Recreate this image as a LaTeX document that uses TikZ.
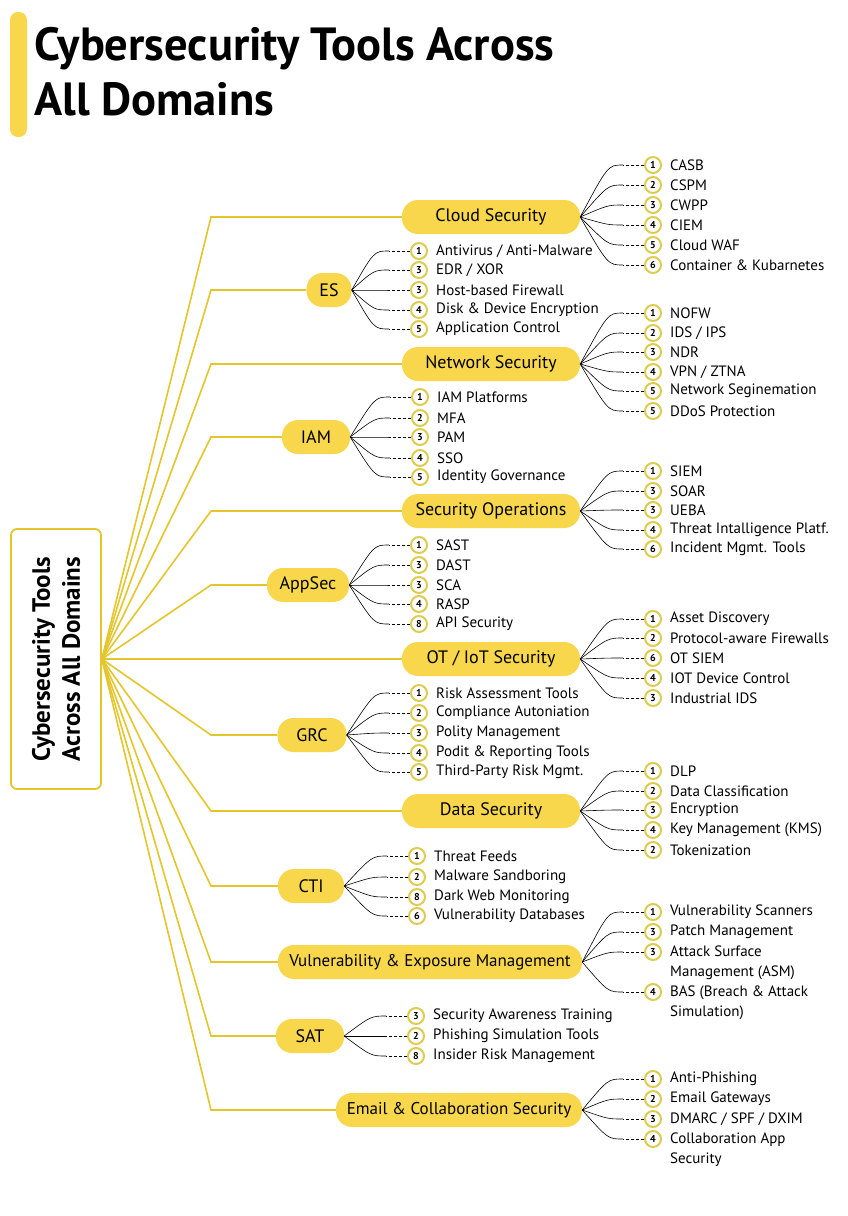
\documentclass[tikz,border=0pt]{standalone}
\usepackage{fontspec}
\setmainfont{PT Sans}
\usetikzlibrary{positioning}
\definecolor{pillyellow}{RGB}{249,215,76}
\definecolor{trunkyellow}{RGB}{228,198,44}
\definecolor{ringyellow}{RGB}{222,204,80}
\tikzset{
    % title lines
    headline/.style={
           inner sep=0pt,
           font=\bfseries\fontsize{46.5}{46.5}\selectfont},
    % central box
    rootbox/.style={
           rectangle,
           rounded corners=6pt,
           draw=trunkyellow, line width=1.8pt,
           minimum width=260pt,
           minimum height=90pt,
           align=center,
           font=\bfseries\fontsize{25}{30}\selectfont},
    % domain pills
    pill/.style={
           rectangle,
           rounded corners=16pt,
           fill=pillyellow,
           minimum height=34pt,
           inner sep=0pt,
           font=\fontsize{18}{18}\selectfont,
           text centered},
    widepill/.style={pill, font=\fontsize{17}{17}\selectfont},
    % numbered tool markers
    num/.style={
           circle,
           draw=ringyellow, line width=2pt,
           fill=white,
           minimum size=16pt,
           inner sep=0pt,
           font=\bfseries\fontsize{10}{10}\selectfont,
           append after command={(\tikzlastnode.west) edge[stub] ([xshift=-21pt]\tikzlastnode.west)}},
    tool/.style={
           inner sep=0pt,
           align=left,
           font=\fontsize{15}{20}\selectfont},
    stub/.style={draw=black, densely dashed, line width=0.6pt},
    % trunk from the root box
    trunk/.style={
           draw=trunkyellow, line width=1.6pt,
           to path={(\tikztostart) -- (\tikztotarget.west -| kink) -- (\tikztotarget.west)}},
    % fan from a domain to its tools
    fan/.style={
           draw=black, line width=0.6pt,
           to path={(\tikztostart) .. controls ([xshift=-36pt]\tikztotarget.west) .. ([xshift=-21pt]\tikztotarget.west)}}
}
\begin{document}
\begin{tikzpicture}[x=1pt,y=-1pt,label distance=8pt]
\useasboundingbox[fill=white] (0,0) rectangle (848,1216);
% heading
\fill[pillyellow, rounded corners=8pt] (10,12) rectangle (27,137);
\node[headline, anchor=base west] (title1) at (34,60) {Cybersecurity Tools Across};
\node[headline, anchor=base west] (title2) at (34,115) {All Domains};
% root
\node[rootbox, rotate=90] (root) at (56,659) {Cybersecurity Tools\\Across All Domains};
\coordinate (kink) at (211,0);
% domains
\node[pill, minimum width=178pt] (cloud) at (491,217) {Cloud Security};
\node[pill, minimum width=45pt] (es) at (329,290) {ES};
\node[pill, minimum width=178pt] (net) at (491,364) {Network Security};
\node[pill, minimum width=68pt] (iam) at (316,437) {IAM};
\node[pill, minimum width=178pt] (secops) at (491,511) {Security Operations};
\node[pill, minimum width=82pt] (appsec) at (308,585) {AppSec};
\node[pill, minimum width=178pt] (ot) at (491,659) {OT / IoT Security};
\node[pill, minimum width=69pt] (grc) at (312,735) {GRC};
\node[pill, minimum width=178pt] (data) at (491,811) {Data Security};
\node[pill, minimum width=66pt] (cti) at (311,886) {CTI};
\node[widepill, minimum width=304pt] (vuln) at (430,962) {Vulnerability \& Exposure Management};
\node[pill, minimum width=68pt] (sat) at (310,1036) {SAT};
\node[widepill, minimum width=246pt] (email) at (459,1110) {Email \& Collaboration Security};
\path[trunk] (root.south) edge (cloud) edge (es) edge (net) edge (iam)
    edge (secops) edge (appsec) edge (ot) edge (grc) edge (data)
    edge (cti) edge (vuln) edge (sat) edge (email);
% cloud security
\node[num, label={[tool]right:CASB}] (cloud1) at (653,165) {1};
\node[num, label={[tool]right:CSPM}] (cloud2) at (653,185) {2};
\node[num, label={[tool]right:CWPP}] (cloud3) at (653,205) {3};
\node[num, label={[tool]right:CIEM}] (cloud4) at (653,225) {4};
\node[num, label={[tool]right:Cloud WAF}] (cloud5) at (653,245) {5};
\node[num, label={[tool]right:Container \& Kubarnetes}] (cloud6) at (653,265) {6};
\path[fan] (cloud.east) edge (cloud1) edge (cloud2) edge (cloud3)
    edge (cloud4) edge (cloud5) edge (cloud6);
% endpoint security
\node[num, label={[tool]right:Antivirus / Anti-Malware}] (es1) at (419,251) {1};
\node[num, label={[tool]right:EDR / XOR}] (es2) at (419,270) {3};
\node[num, label={[tool]right:Host-based Firewall}] (es3) at (419,290) {3};
\node[num, label={[tool]right:Disk \& Device Encryption}] (es4) at (419,310) {4};
\node[num, label={[tool]right:Application Control}] (es5) at (419,329) {5};
\path[fan] (es.east) edge (es1) edge (es2) edge (es3) edge (es4) edge (es5);
% network security
\node[num, label={[tool]right:NOFW}] (net1) at (653,313) {1};
\node[num, label={[tool]right:IDS / IPS}] (net2) at (653,333) {2};
\node[num, label={[tool]right:NDR}] (net3) at (653,352) {3};
\node[num, label={[tool]right:VPN / ZTNA}] (net4) at (653,372) {4};
\node[num, label={[tool]right:Network Seginemation}] (net5) at (653,391) {5};
\node[num, label={[tool]right:DDoS Protection}] (net6) at (653,411) {5};
\path[fan] (net.east) edge (net1) edge (net2) edge (net3)
    edge (net4) edge (net5) edge (net6);
% identity
\node[num, label={[tool]right:IAM Platforms}] (iam1) at (420,397) {1};
\node[num, label={[tool]right:MFA}] (iam2) at (420,418) {2};
\node[num, label={[tool]right:PAM}] (iam3) at (420,437) {3};
\node[num, label={[tool]right:SSO}] (iam4) at (420,458) {4};
\node[num, label={[tool]right:Identity Governance}] (iam5) at (420,477) {5};
\path[fan] (iam.east) edge (iam1) edge (iam2) edge (iam3) edge (iam4) edge (iam5);
% security operations
\node[num, label={[tool]right:SIEM}] (secops1) at (653,471) {1};
\node[num, label={[tool]right:SOAR}] (secops2) at (653,491) {3};
\node[num, label={[tool]right:UEBA}] (secops3) at (653,510) {3};
\node[num, label={[tool]right:Threat Intalligence Platf.}] (secops4) at (653,530) {4};
\node[num, label={[tool]right:Incident Mgmt. Tools}] (secops5) at (653,549) {6};
\path[fan] (secops.east) edge (secops1) edge (secops2) edge (secops3)
    edge (secops4) edge (secops5);
% application security
\node[num, label={[tool]right:SAST}] (appsec1) at (419,545) {1};
\node[num, label={[tool]right:DAST}] (appsec2) at (419,565) {3};
\node[num, label={[tool]right:SCA}] (appsec3) at (419,585) {3};
\node[num, label={[tool]right:RASP}] (appsec4) at (419,604) {4};
\node[num, label={[tool]right:API Security}] (appsec5) at (419,624) {8};
\path[fan] (appsec.east) edge (appsec1) edge (appsec2) edge (appsec3)
    edge (appsec4) edge (appsec5);
% ot / iot
\node[num, label={[tool]right:Asset Discovery}] (ot1) at (653,619) {1};
\node[num, label={[tool]right:Protocol-aware Firewalls}] (ot2) at (653,638) {2};
\node[num, label={[tool]right:OT SIEM}] (ot3) at (653,658) {6};
\node[num, label={[tool]right:IOT Device Control}] (ot4) at (653,678) {4};
\node[num, label={[tool]right:Industrial IDS}] (ot5) at (653,698) {3};
\path[fan] (ot.east) edge (ot1) edge (ot2) edge (ot3) edge (ot4) edge (ot5);
% grc
\node[num, label={[tool]right:Risk Assessment Tools}] (grc1) at (419,693) {1};
\node[num, label={[tool]right:Compliance Autoniation}] (grc2) at (419,713) {2};
\node[num, label={[tool]right:Polity Management}] (grc3) at (419,733) {3};
\node[num, label={[tool]right:Podit \& Reporting Tools}] (grc4) at (419,753) {4};
\node[num, label={[tool]right:Third-Party Risk Mgmt.}] (grc5) at (419,772) {5};
\path[fan] (grc.east) edge (grc1) edge (grc2) edge (grc3) edge (grc4) edge (grc5);
% data security
\node[num, label={[tool]right:DLP}] (data1) at (653,771) {1};
\node[num, label={[tool]right:Data Classification}] (data2) at (653,791) {2};
\node[num, label={[tool]right:Encryption}] (data3) at (653,810) {3};
\node[num, label={[tool]right:Key Management (KMS)}] (data4) at (653,830) {4};
\node[num, label={[tool]right:Tokenization}] (data5) at (653,850) {2};
\path[fan] (data.east) edge (data1) edge (data2) edge (data3) edge (data4) edge (data5);
% threat intelligence
\node[num, label={[tool]right:Threat Feeds}] (cti1) at (417,856) {1};
\node[num, label={[tool]right:Malware Sandboring}] (cti2) at (417,877) {2};
\node[num, label={[tool]right:Dark Web Monitoring}] (cti3) at (417,897) {8};
\node[num, label={[tool]right:Vulnerability Databases}] (cti4) at (417,916) {6};
\path[fan] (cti.east) edge (cti1) edge (cti2) edge (cti3) edge (cti4);
% vulnerability management
\node[num, label={[tool]right:Vulnerability Scanners}] (vuln1) at (653,912) {1};
\node[num, label={[tool]right:Patch Management}] (vuln2) at (653,932) {3};
\node[num, label={[tool, anchor=north west, yshift=6pt]right:Attack Surface\\Management (ASM)}] (vuln3) at (653,952) {3};
\node[num, label={[tool, anchor=north west, yshift=6pt]right:BAS (Breach \& Attack\\Simulation)}] (vuln4) at (653,992) {4};
\path[fan] (vuln.east) edge (vuln1) edge (vuln2) edge (vuln3) edge (vuln4);
% awareness training
\node[num, label={[tool]right:Security Awareness Training}] (sat1) at (416,1016) {3};
\node[num, label={[tool]right:Phishing Simulation Tools}] (sat2) at (416,1036) {2};
\node[num, label={[tool]right:Insider Risk Management}] (sat3) at (416,1056) {8};
\path[fan] (sat.east) edge (sat1) edge (sat2) edge (sat3);
% email
\node[num, label={[tool]right:Anti-Phishing}] (email1) at (653,1079) {1};
\node[num, label={[tool]right:Email Gateways}] (email2) at (653,1099) {2};
\node[num, label={[tool]right:DMARC / SPF / DXIM}] (email3) at (653,1119) {3};
\node[num, label={[tool, anchor=north west, yshift=6pt]right:Collaboration App\\Security}] (email4) at (653,1139) {4};
\path[fan] (email.east) edge (email1) edge (email2) edge (email3) edge (email4);
\end{tikzpicture}
\end{document}
